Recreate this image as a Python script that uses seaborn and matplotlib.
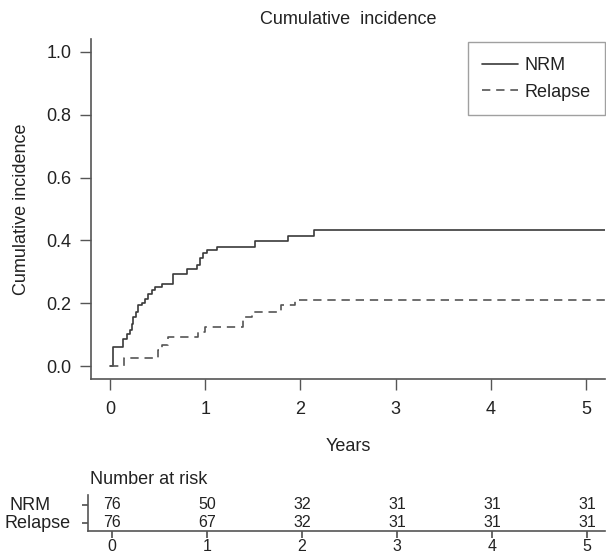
import matplotlib
matplotlib.use("Agg")
import matplotlib.pyplot as plt
import pandas as pd
import seaborn as sns

# step points (years, cumulative incidence)
nrm_time = [0, 0.035, 0.14, 0.175, 0.21, 0.228, 0.245, 0.273, 0.298, 0.333, 0.368, 0.403,
            0.438, 0.473, 0.543, 0.665, 0.812, 0.91, 0.945, 0.98, 1.015, 1.12, 1.52, 1.87,
            2.14, 5.2]
nrm_ci = [0, 0.061, 0.088, 0.104, 0.115, 0.136, 0.157, 0.173, 0.194, 0.2, 0.215, 0.231,
          0.242, 0.252, 0.263, 0.295, 0.309, 0.321, 0.343, 0.359, 0.369, 0.380, 0.399, 0.414,
          0.433, 0.433]
rel_time = [0, 0.147, 0.508, 0.543, 0.613, 0.928, 0.998, 1.40, 1.49, 1.80, 1.94, 5.2]
rel_ci = [0, 0.026, 0.051, 0.067, 0.093, 0.109, 0.125, 0.157, 0.173, 0.194, 0.21, 0.21]

risk_times = [0, 1, 2, 3, 4, 5]
risk_nrm = [76, 50, 32, 31, 31, 31]
risk_relapse = [76, 67, 32, 31, 31, 31]
risk_groups = ["NRM", "Relapse"]

df = pd.concat([
    pd.DataFrame({"Years": nrm_time, "ci": nrm_ci, "event": "NRM"}),
    pd.DataFrame({"Years": rel_time, "ci": rel_ci, "event": "Relapse"}),
], ignore_index=True)

sns.set_theme(style="ticks")
plt.rcParams["font.family"] = ["Liberation Sans", "DejaVu Sans"]
plt.rcParams["text.color"] = "#222222"
plt.rcParams["axes.labelcolor"] = "#222222"
plt.rcParams["xtick.color"] = "#555555"
plt.rcParams["ytick.color"] = "#555555"
plt.rcParams["xtick.labelcolor"] = "#222222"
plt.rcParams["ytick.labelcolor"] = "#222222"

W, H = 606, 553
fig = plt.figure(figsize=(W / 100, H / 100), dpi=100)

# main plot
ax = fig.add_axes([91 / W, 1 - 379 / H, (605 - 91) / W, (379 - 39) / H])
sns.lineplot(data=df, x="Years", y="ci", hue="event", style="event",
             palette={"NRM": "#3a3a3a", "Relapse": "#555555"},
             dashes={"NRM": "", "Relapse": (5, 3.5)},
             estimator=None, sort=False, drawstyle="steps-post",
             linewidth=1.2, ax=ax)
ax.set_xlim(-0.2, 5.2)
ax.set_ylim(-0.04, 1.04)
ax.set_xticks(risk_times)
ax.set_yticks([0, 0.2, 0.4, 0.6, 0.8, 1.0])
ax.set_yticklabels(["0.0", "0.2", "0.4", "0.6", "0.8", "1.0"])
ax.tick_params(labelsize=13, length=8, width=1, pad=6)
ax.tick_params(axis="x", pad=8)
ax.set_xlabel("Years", fontsize=13, labelpad=14)
ax.set_ylabel("Cumulative incidence", fontsize=13, labelpad=12)
ax.set_title("Cumulative  incidence", fontsize=13, pad=11)
for s in ["top", "right"]:
    ax.spines[s].set_visible(False)
for s in ["left", "bottom"]:
    ax.spines[s].set_color("#555555")
    ax.spines[s].set_linewidth(1.2)

leg = ax.legend(loc="upper right", bbox_to_anchor=(1.0, 0.99), borderaxespad=0,
                fontsize=13, frameon=True, fancybox=False, handlelength=2.0,
                handletextpad=0.35, borderpad=0.8, labelspacing=0.55, title=None)
leg.get_frame().set_edgecolor("#888888")
leg.get_frame().set_linewidth(1.0)

# number at risk table
ax2 = fig.add_axes([88 / W, 1 - 531 / H, (605 - 88) / W, (531 - 495) / H])
ax2.set_xlim(-0.25, 5.19)
ax2.set_ylim(-0.45, 1.55)
for t, a, b in zip(risk_times, risk_nrm, risk_relapse):
    ax2.text(t, 1, str(a), ha="center", va="center", fontsize=11.5)
    ax2.text(t, 0, str(b), ha="center", va="center", fontsize=11.5)
ax2.set_xticks(risk_times)
ax2.set_yticks([1, 0])
ax2.set_yticklabels([])
ax2.tick_params(axis="y", length=4)
ax2.tick_params(axis="x", labelsize=11.5, length=5, pad=1)
for s in ["top", "right"]:
    ax2.spines[s].set_visible(False)
for s in ["left", "bottom"]:
    ax2.spines[s].set_color("#555555")
    ax2.spines[s].set_linewidth(1.2)
fig.text(10 / W, 1 - 505 / H, risk_groups[0], ha="left", va="center", fontsize=13)
fig.text(5 / W, 1 - 523 / H, risk_groups[1], ha="left", va="center", fontsize=13)
fig.text(90 / W, 1 - 480 / H, "Number at risk", ha="left", va="center", fontsize=13)

fig.savefig("out.png", dpi=100)
